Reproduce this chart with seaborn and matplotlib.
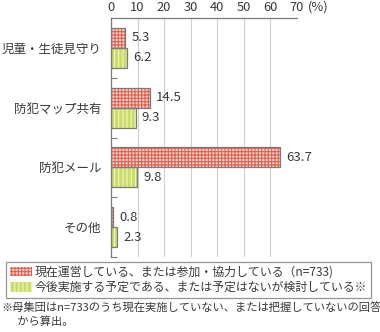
import matplotlib
matplotlib.use("Agg")
import matplotlib.pyplot as plt
import matplotlib.patches as mpatches
import seaborn as sns
import pandas as pd

categories = ["児童・生徒見守り", "防犯マップ共有", "防犯メール", "その他"]
series_names = [
    "現在運営している、または参加・協力している（n=733)",
    "今後実施する予定である、または予定はないが検討している※",
]
current_vals = [5.3, 14.5, 63.7, 0.8]
planned_vals = [6.2, 9.3, 9.8, 2.3]
x_ticks = [0, 10, 20, 30, 40, 50, 60, 70]
note_lines = [
    "※母集団はn=733のうち現在実施していない、または把握していないの回答",
    "　  から算出。",
]

sns.set_theme(style="white")
plt.rcParams["font.family"] = ["Noto Sans CJK JP", "DejaVu Sans"]
plt.rcParams["hatch.linewidth"] = 0.8

text_col = "#3a3a3a"
edge_col = "#7a7a7a"
face_cols = ["#f6d3cb", "#cbdc6a"]
hatch_cols = ["#e0604f", "#f0f6bf"]
hatches = ["+++++", "||||"]

df = pd.DataFrame({
    "category": categories * 2,
    "value": current_vals + planned_vals,
    "series": [series_names[0]] * 4 + [series_names[1]] * 4,
})

fig = plt.figure(figsize=(3.8, 3.32), dpi=100)
ax = fig.add_axes([111 / 380, 1 - 257 / 332, 186 / 380, 239 / 332])

sns.barplot(data=df, x="value", y="category", hue="series", orient="h",
            order=categories, hue_order=series_names,
            palette=face_cols, width=0.667, legend=False, ax=ax, errorbar=None)

# style the bars: hatch drawn with zero-width edge, outline added on top
bars = [p for p in ax.patches if isinstance(p, mpatches.Rectangle)]
for i, p in enumerate(bars):
    s = 0 if i < len(categories) else 1
    p.set_facecolor(face_cols[s])
    p.set_hatch(hatches[s])
    p.set_edgecolor(hatch_cols[s])
    p.set_linewidth(0)
    outline = mpatches.Rectangle(p.get_xy(), p.get_width(), p.get_height(),
                                 fill=False, edgecolor=edge_col, linewidth=0.9,
                                 zorder=p.get_zorder() + 0.1)
    ax.add_patch(outline)
    ax.text(p.get_width() + 2.3, p.get_y() + p.get_height() / 2,
            f"{p.get_width():.1f}", va="center", ha="left",
            fontsize=9.5, color=text_col)

ax.set_xlim(0, 70)
ax.set_ylim(len(categories) - 0.5, -0.5)
ax.set_xlabel("")
ax.set_ylabel("")

ax.xaxis.tick_top()
ax.set_xticks(x_ticks)
ax.set_xticklabels([str(t) for t in x_ticks])
ax.tick_params(axis="x", which="major", length=0, pad=3, labelsize=9.3,
               labelcolor=text_col)
ax.set_xticks([70], minor=True)
ax.tick_params(axis="x", which="minor", direction="in", length=4,
               color=edge_col, width=0.8, top=True, bottom=False)
ax.annotate("(%)", xy=(1, 1), xycoords="axes fraction", xytext=(8, 3),
            textcoords="offset points", fontsize=9.3, color=text_col,
            va="bottom", ha="left")

ax.tick_params(axis="y", which="major", length=0, pad=7, labelsize=9,
               labelcolor=text_col)
ax.set_yticks([0.5, 1.5, 2.5, 3.5], minor=True)
ax.tick_params(axis="y", which="minor", direction="in", length=4,
               color=edge_col, width=0.8, left=True)

ax.grid(axis="x", color="#d0d0d0", linewidth=0.8)
ax.set_axisbelow(True)
for side in ["right", "bottom"]:
    ax.spines[side].set_visible(False)
for side in ["left", "top"]:
    ax.spines[side].set_color(edge_col)
    ax.spines[side].set_linewidth(0.9)

handles = [mpatches.Patch(facecolor=face_cols[s], hatch=hatches[s],
                          edgecolor=hatch_cols[s], linewidth=0)
           for s in range(2)]
leg = fig.legend(handles, series_names, loc="upper left",
                 bbox_to_anchor=(6 / 380, 1 - 262 / 332),
                 frameon=True, fancybox=False, fontsize=8.6,
                 handlelength=1.9, handleheight=0.9, handletextpad=0.2,
                 labelspacing=0.2, borderpad=0.3, borderaxespad=0)
leg.get_frame().set_edgecolor(edge_col)
leg.get_frame().set_linewidth(0.9)
for t in leg.get_texts():
    t.set_color(text_col)

fig.text(1 / 380, 1 - 303 / 332, "\n".join(note_lines), fontsize=8.1,
         color=text_col, va="top", ha="left", linespacing=1.25)

fig.savefig("out.png", dpi=100)
